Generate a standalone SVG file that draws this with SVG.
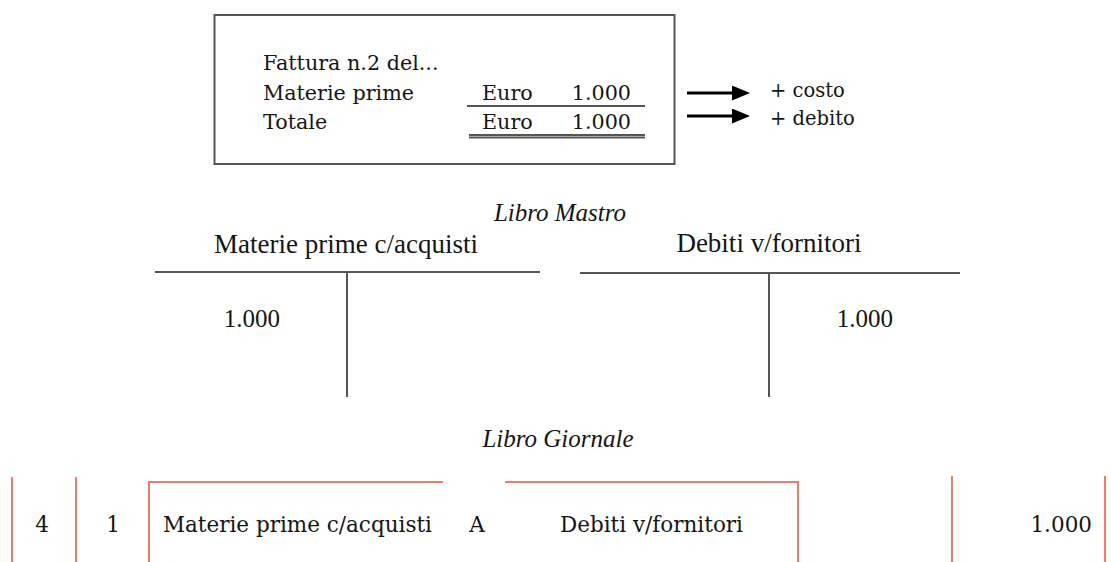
<svg xmlns="http://www.w3.org/2000/svg" width="1111" height="562" viewBox="0 0 1111 562">
  <style>
    .dv { font-family: "DejaVu Serif", "Liberation Serif", serif; fill: #151515; }
    .lb { font-family: "Liberation Serif", "DejaVu Serif", serif; fill: #151515; }
    .it { font-family: "Liberation Serif", "DejaVu Serif", serif; font-style: italic; fill: #151515; font-size: 25px; }
    .gl { stroke: #555; stroke-width: 2; fill: none; }
    .red { stroke: #ee7e6c; stroke-width: 2; fill: none; }
    .arr { stroke: #000; stroke-width: 2.8; fill: none; }
    .row { font-size: 21.5px; }
  </style>
  <defs>
    <marker id="head" viewBox="0 0 18 15" markerWidth="18" markerHeight="15" refX="2" refY="7.5" markerUnits="userSpaceOnUse" orient="auto">
      <path d="M0,0 L18,7.5 L0,15 Z" fill="#000"/>
    </marker>
  </defs>
  <rect width="1111" height="562" fill="#fff"/>

  <g id="invoice">
    <rect x="214.5" y="15" width="460" height="149" class="gl"/>
    <text x="263" y="70" class="dv" font-size="20.7">Fattura n.2 del...</text>
    <text x="263" y="99.5" class="dv" font-size="20.7">Materie prime</text>
    <text x="482" y="99.5" class="dv" font-size="20.7">Euro</text>
    <text x="631" y="99.5" class="dv" font-size="20.7" text-anchor="end">1.000</text>
    <line x1="467" y1="106" x2="645" y2="106" class="gl" stroke-width="1.5"/>
    <text x="263" y="129" class="dv" font-size="20.7">Totale</text>
    <text x="482" y="129" class="dv" font-size="20.7">Euro</text>
    <text x="631" y="129" class="dv" font-size="20.7" text-anchor="end">1.000</text>
    <line x1="469" y1="135" x2="645" y2="135" class="gl" stroke-width="1.8"/>
    <line x1="469" y1="137.5" x2="645" y2="137.5" class="gl" stroke-width="1.8"/>
  </g>

  <g id="effect-labels">
    <text x="770" y="97" class="dv" font-size="19.5">+ costo</text>
    <text x="770" y="125" class="dv" font-size="19.5">+ debito</text>
  </g>

  <g id="connectors">
    <line x1="687" y1="93" x2="734" y2="93" class="arr" marker-end="url(#head)"/>
    <line x1="687" y1="116" x2="734" y2="116" class="arr" marker-end="url(#head)"/>
  </g>

  <g id="libro-mastro-title">
    <text x="560" y="221" class="it" text-anchor="middle">Libro Mastro</text>
  </g>

  <g id="t-materie-prime">
    <text x="346" y="253" class="lb" font-size="27" text-anchor="middle">Materie prime c/acquisti</text>
    <line x1="155" y1="272" x2="540" y2="272" class="gl"/>
    <line x1="347" y1="272" x2="347" y2="397" class="gl"/>
    <text x="280" y="327" class="lb" font-size="25" text-anchor="end">1.000</text>
  </g>

  <g id="t-debiti">
    <text x="769" y="252" class="lb" font-size="27" text-anchor="middle">Debiti v/fornitori</text>
    <line x1="580" y1="273" x2="960" y2="273" class="gl"/>
    <line x1="769" y1="273" x2="769" y2="397" class="gl"/>
    <text x="893" y="327" class="lb" font-size="25" text-anchor="end">1.000</text>
  </g>

  <g id="libro-giornale-title">
    <text x="558" y="447" class="it" text-anchor="middle">Libro Giornale</text>
  </g>

  <g id="journal-row">
    <line x1="12" y1="477" x2="12" y2="562" class="red"/>
    <line x1="76" y1="477" x2="76" y2="562" class="red"/>
    <path d="M149,562 V482 H443 M505,482 H798 V562" class="red"/>
    <line x1="952" y1="476" x2="952" y2="562" class="red"/>
    <line x1="1105" y1="476" x2="1105" y2="562" class="red"/>
    <text x="42" y="532" class="dv row" text-anchor="middle">4</text>
    <text x="113" y="532" class="dv row" text-anchor="middle">1</text>
    <text x="163" y="532" class="dv row">Materie prime c/acquisti</text>
    <text x="477" y="532" class="dv row" text-anchor="middle">A</text>
    <text x="560" y="532" class="dv row">Debiti v/fornitori</text>
    <text x="1092" y="532" class="dv row" text-anchor="end">1.000</text>
  </g>
</svg>
